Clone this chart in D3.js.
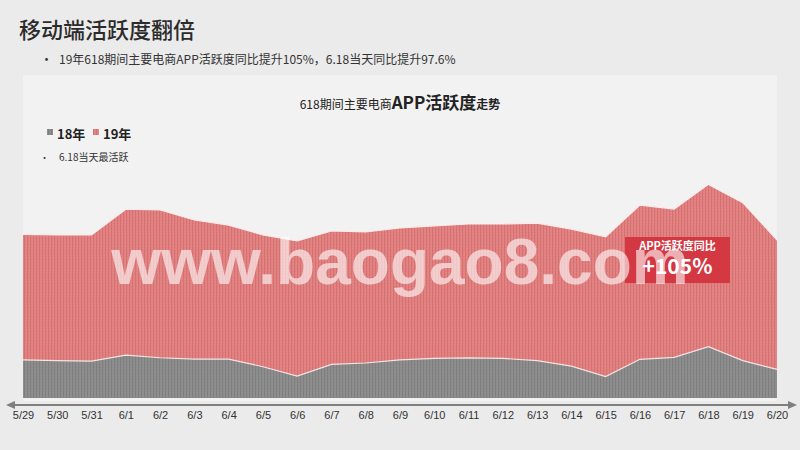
<!DOCTYPE html>
<html><head><meta charset="utf-8">
<script src="https://cdnjs.cloudflare.com/ajax/libs/d3/7.8.5/d3.min.js"></script>
<style>
html,body{margin:0;padding:0;background:#ebebeb;}
svg{display:block;font-family:"Microsoft YaHei","Noto Sans CJK SC","Noto Sans",sans-serif;}
</style></head>
<body>
<svg id="c" width="800" height="450"></svg>
<script>
const dates = ["5/29","5/30","5/31","6/1","6/2","6/3","6/4","6/5","6/6","6/7","6/8","6/9","6/10","6/11","6/12","6/13","6/14","6/15","6/16","6/17","6/18","6/19","6/20"];
const v19 = [74.4,74.1,74.1,85.8,85.5,80.9,78.6,74.1,71.4,75.9,75.5,77.3,78.2,79.1,79.1,79.5,76.8,73.3,87.7,85.9,97.1,88.8,71.8];
const v18 = [17.3,17.0,16.8,19.5,18.3,17.7,17.7,14.2,10.0,15.3,15.9,17.3,18.0,18.2,18.0,17.0,14.5,9.7,17.6,18.5,23.3,17.0,13.0];
const seriesNames = ["18年","19年"];
const pageTitle = "移动端活跃度翻倍";
const subtitle = "19年618期间主要电商APP活跃度同比提升105%，6.18当天同比提升97.6%";
const note = "6.18当天最活跃";
const calloutLabel = "APP活跃度同比";
const calloutValue = "+105%";

const svg = d3.select("#c");
const defs = svg.append("defs");
function stripe(id, base, line){
  const p = defs.append("pattern").attr("id", id).attr("patternUnits","userSpaceOnUse").attr("width",3).attr("height",3);
  p.append("rect").attr("width",3).attr("height",3).attr("fill",base);
  p.append("rect").attr("x",0).attr("width",1).attr("height",3).attr("fill",line);
  p.append("rect").attr("x",1).attr("y",1).attr("width",1).attr("height",1).attr("fill",line).attr("opacity",0.5);
}
stripe("pRed","#e38484","#d77171");
stripe("pGray","#8e8e8e","#7f7f7f");

svg.append("text").attr("x",19).attr("y",38).attr("font-size",22).attr("fill","#2b2b2b").attr("font-weight",500).text(pageTitle);
svg.append("text").attr("x",40).attr("y",64).attr("font-size",13).attr("fill","#333").text("•");
svg.append("text").attr("x",59).attr("y",64).attr("font-size",12).attr("fill","#333").text(subtitle);

svg.append("rect").attr("x",23).attr("y",75).attr("width",754).attr("height",326).attr("fill","#f2f2f2");

const x = d3.scalePoint().domain(dates).range([23,777]);
const y = d3.scaleLinear().domain([0,100]).range([398,178]);

const area = vals => d3.area().x((d,i)=>x(dates[i])).y0(y(0)).y1(d=>y(d))(vals);
const line = vals => d3.line().x((d,i)=>x(dates[i])).y(d=>y(d))(vals);

svg.append("path").attr("d",area(v19)).attr("fill","url(#pRed)");
svg.append("path").attr("d",line(v19)).attr("fill","none").attr("stroke","#fbeaea").attr("stroke-width",1.2);
svg.append("path").attr("d",area(v18)).attr("fill","url(#pGray)");
svg.append("path").attr("d",line(v18)).attr("fill","none").attr("stroke","#f3e3e3").attr("stroke-width",1.2);

const axisY = 405;
const axis = d3.axisBottom(x).tickSize(0).tickPadding(6);
const ag = svg.append("g").attr("transform",`translate(0,${axisY})`).call(axis);
ag.select(".domain").remove();
ag.selectAll("text").attr("font-size",11).attr("fill","#333").attr("font-family","Arial,'Liberation Sans',sans-serif");
svg.append("line").attr("x1",12).attr("x2",792).attr("y1",axisY).attr("y2",axisY).attr("stroke","#7f7f7f").attr("stroke-width",2);
svg.append("path").attr("d",`M6,${axisY} L15,${axisY-4} L15,${axisY+4} Z`).attr("fill","#7f7f7f");
svg.append("path").attr("d",`M797,${axisY} L788,${axisY-4} L788,${axisY+4} Z`).attr("fill","#7f7f7f");

const t = svg.append("text").attr("x",400).attr("y",109).attr("text-anchor","middle").attr("fill","#222");
t.append("tspan").attr("font-size",12).text("618期间主要电商");
t.append("tspan").attr("font-size",17).attr("font-weight","bold").text("APP活跃度");
t.append("tspan").attr("font-size",12).attr("font-weight","bold").text("走势");

const lg = svg.append("g");
const legendColors = ["url(#pGray)","url(#pRed)"];
const lx = [47,93];
seriesNames.forEach((n,i)=>{
  lg.append("rect").attr("x",lx[i]).attr("y",129).attr("width",6).attr("height",6).attr("fill",legendColors[i]);
  lg.append("text").attr("x",lx[i]+10).attr("y",139).attr("font-size",13).attr("font-weight","bold").attr("fill","#222").text(n);
});
svg.append("text").attr("x",40).attr("y",161).attr("font-size",9).attr("fill","#333").text("•");
svg.append("text").attr("x",59).attr("y",161).attr("font-size",10).attr("fill","#333").text(note);

// callout
const cx = 625, cw = 105;
svg.append("rect").attr("x",cx).attr("y",237).attr("width",cw).attr("height",46).attr("fill","#d2323e").attr("fill-opacity",0.92);
svg.append("text").attr("x",cx+cw/2).attr("y",250).attr("text-anchor","middle").attr("font-size",11).attr("font-weight","bold").attr("fill","#fff").text(calloutLabel);
svg.append("text").attr("x",cx+cw/2).attr("y",274).attr("text-anchor","middle").attr("font-size",21).attr("font-weight","bold").attr("fill","#fff").text(calloutValue);

// watermark (drawn on top, as in reference)
svg.append("text").attr("x",400).attr("y",284).attr("text-anchor","middle").attr("font-size",64).attr("font-weight","bold")
  .attr("font-family","Arial,'Liberation Sans',sans-serif").attr("fill","#ffffff").attr("fill-opacity",0.6).text("www.baogao8.com");
</script>
</body></html>
